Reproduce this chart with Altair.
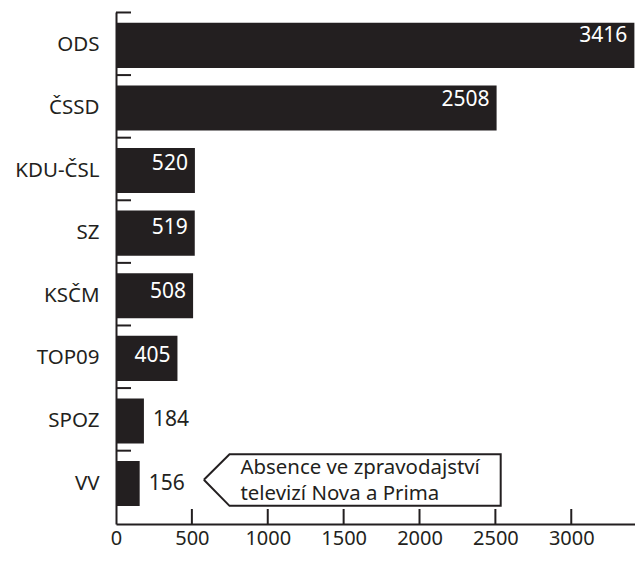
import altair as alt
import pandas as pd

parties = ["ODS", "ČSSD", "KDU-ČSL", "SZ", "KSČM", "TOP09", "SPOZ", "VV"]
values = [3416, 2508, 520, 519, 508, 405, 184, 156]
x_ticks = [0, 500, 1000, 1500, 2000, 2500, 3000]

# callout (x in data units, y in row units)
callout_x = [579, 748, 2535, 2535, 748, 579]
callout_u = [7.472, 7.064, 7.064, 7.889, 7.889, 7.472]
callout_text = "Absence ve zpravodajství\ntelevizí Nova a Prima"
callout_text_x = 820
callout_text_u = 7.378

DARK = "#231f20"
FONT = "Noto Sans"
FS = 20.5
W, H = 519, 512
STEP = 62.6

df = pd.DataFrame({"party": parties, "value": values})
df_ticks = pd.DataFrame({"value": [t for t in x_ticks if t > 0]})
df_call = pd.DataFrame({"value": callout_x, "u": callout_u, "o": list(range(len(callout_x)))})
df_ctext = pd.DataFrame({"value": [callout_text_x], "u": [callout_text_u], "label": [callout_text]})

xscale = alt.Scale(domain=[0, 3420], nice=False, zero=True)
yscale = alt.Scale(domain=parties, paddingInner=0.279, paddingOuter=0.229, align=0.376)
uscale = alt.Scale(domain=[0, H / STEP], reverse=True, nice=False, zero=False)

bars = alt.Chart(df).mark_bar(color=DARK).encode(
    x=alt.X("value:Q", scale=xscale,
            axis=alt.Axis(values=x_ticks, format="d", ticks=False, grid=False, title=None,
                          domainColor=DARK, domainWidth=2, labelFont=FONT,
                          labelFontSize=20, labelColor=DARK, labelPadding=4,
                          labelFlush=False)),
    y=alt.Y("party:N", scale=yscale, sort=None,
            axis=alt.Axis(ticks=False, grid=False, title=None, domainColor=DARK,
                          domainWidth=2, labelFont=FONT, labelFontSize=FS,
                          labelColor=DARK, labelPadding=17)),
)

inside = alt.Chart(df).transform_filter("datum.value >= 400").mark_text(
    align="right", baseline="middle", dx=-7, color="white", font=FONT, fontSize=21
).encode(
    x=alt.X("value:Q", scale=xscale),
    y=alt.Y("party:N", scale=yscale, sort=None, axis=None),
    text="value:Q",
)

outside = alt.Chart(df).transform_filter("datum.value < 400").mark_text(
    align="left", baseline="middle", dx=9, color=DARK, font=FONT, fontSize=21
).encode(
    x=alt.X("value:Q", scale=xscale),
    y=alt.Y("party:N", scale=yscale, sort=None, axis=None),
    text="value:Q",
)

yticks = alt.Chart(df).mark_rule(color=DARK, strokeWidth=2, yOffset=-10.3).encode(
    y=alt.Y("party:N", scale=yscale, sort=None, axis=None, bandPosition=0),
    x=alt.value(0),
    x2=alt.value(15),
)

xticks = alt.Chart(df_ticks).mark_rule(color=DARK, strokeWidth=2).encode(
    x=alt.X("value:Q", scale=xscale),
    y=alt.value(H - 15),
    y2=alt.value(H),
)

callout = alt.Chart(df_call).mark_line(color=DARK, strokeWidth=2).encode(
    x=alt.X("value:Q", scale=xscale),
    y=alt.Y("u:Q", scale=uscale, axis=None),
    order="o:O",
)

ctext = alt.Chart(df_ctext).mark_text(
    align="left", baseline="alphabetic", lineBreak="\n", lineHeight=26.5,
    color=DARK, font=FONT, fontSize=20.4
).encode(
    x=alt.X("value:Q", scale=xscale),
    y=alt.Y("u:Q", scale=uscale, axis=None),
    text="label:N",
)

chart = alt.layer(bars, inside, outside, yticks, xticks, callout, ctext).resolve_scale(
    y="independent"
).properties(
    width=W, height=H, autosize="none",
    padding={"left": 108, "top": 4, "right": 0, "bottom": 29},
).configure_view(stroke=None)

chart.save("out.html", embed_options={"renderer": "svg", "actions": False})
